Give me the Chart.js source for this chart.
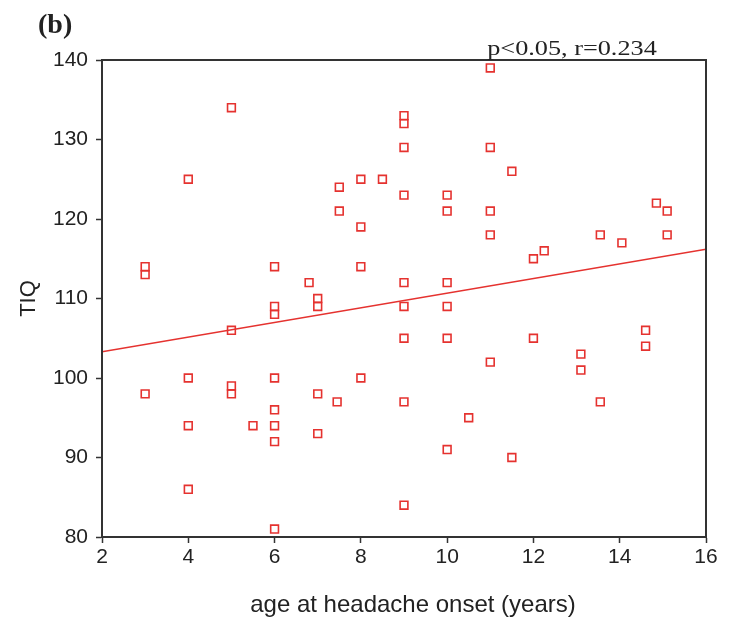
<!DOCTYPE html>
<html lang="en">
<head>
    <meta charset="UTF-8">
    <title>TIQ vs age at headache onset</title>
    <script src="https://cdn.jsdelivr.net/npm/chart.js@4/dist/chart.umd.min.js"></script>
    <style>
        body {
            margin: 0;
            padding: 0;
            background: #fff;
        }
        .chart-container {
            width: 730px;
            height: 622px;
        }
    </style>
</head>
<body>
    <div class="chart-container">
        <canvas id="scatterChart"></canvas>
    </div>

    <script>
        // age at headache onset (years) and TIQ, one entry per subject
        const ageOnset = [
            3, 3, 3,
            4, 4, 4, 4,
            5, 5, 5, 5,
            5.5,
            6, 6, 6, 6, 6, 6, 6, 6,
            6.8,
            7, 7, 7, 7,
            7.45,
            7.5, 7.5,
            8, 8, 8, 8,
            8.5,
            9, 9, 9, 9, 9, 9, 9, 9, 9,
            10, 10, 10, 10, 10, 10,
            10.5,
            11, 11, 11, 11, 11,
            11.5, 11.5,
            12, 12, 12.25,
            13.1, 13.1,
            13.55, 13.55,
            14.05,
            14.6, 14.6,
            14.85,
            15.1, 15.1
        ];
        const tiq = [
            114, 113, 98,
            125, 100, 94, 86,
            134, 106, 99, 98,
            94,
            114, 109, 108, 100, 96, 94, 92, 81,
            112,
            110, 109, 98, 93,
            97,
            124, 121,
            125, 119, 114, 100,
            125,
            133, 132, 129, 123, 112, 109, 105, 97, 84,
            123, 121, 112, 109, 105, 91,
            95,
            139, 129, 121, 118, 102,
            126, 90,
            115, 105, 116,
            103, 101,
            118, 97,
            117,
            106, 104,
            122,
            121, 118
        ];

        // fitted regression line (end points)
        const fitAge = [2, 16];
        const fitTiq = [103.3, 116.2];

        const xTicks = [2, 4, 6, 8, 10, 12, 14, 16];
        const yTicks = [80, 90, 100, 110, 120, 130, 140];

        const panelLabel = '(b)';
        const statsLabel = 'p<0.05, r=0.234';
        const xTitle = 'age at headache onset (years)';

        const red = '#e5322f';
        const axisColor = '#333';
        const sans = '"Liberation Sans", Arial, sans-serif';
        const serif = '"Liberation Serif", "Times New Roman", serif';

        const frameAndText = {
            id: 'frameAndText',
            afterDraw(chart) {
                const { ctx, chartArea } = chart;
                ctx.save();
                ctx.strokeStyle = axisColor;
                ctx.lineWidth = 2;
                ctx.strokeRect(chartArea.left, chartArea.top,
                    chartArea.right - chartArea.left, chartArea.bottom - chartArea.top);

                ctx.fillStyle = '#222';
                ctx.textBaseline = 'alphabetic';
                ctx.font = 'bold 28px ' + serif;
                ctx.textAlign = 'left';
                ctx.fillText(panelLabel, 38, 33);

                // x axis title, centred a little right of the plot centre as in the figure
                ctx.font = '24px ' + sans;
                ctx.textAlign = 'center';
                ctx.fillText(xTitle, 413, 612);

                // stats text is drawn a bit wide, like the original
                ctx.font = '21px ' + serif;
                ctx.translate(572, 55);
                ctx.scale(1.25, 1);
                ctx.fillText(statsLabel, 0, 0);
                ctx.restore();
            }
        };

        function createChart() {
            const ctx = document.getElementById('scatterChart').getContext('2d');

            new Chart(ctx, {
                type: 'scatter',
                data: {
                    datasets: [
                        {
                            label: 'TIQ',
                            data: ageOnset.map((a, i) => ({ x: a, y: tiq[i] })),
                            pointStyle: 'rect',
                            pointRadius: 5.5,
                            pointHoverRadius: 5.5,
                            borderColor: red,
                            backgroundColor: 'rgba(0,0,0,0)',
                            borderWidth: 1.6
                        },
                        {
                            label: 'fit',
                            data: fitAge.map((a, i) => ({ x: a, y: fitTiq[i] })),
                            showLine: true,
                            pointRadius: 0,
                            borderColor: red,
                            borderWidth: 1.5
                        }
                    ]
                },
                options: {
                    responsive: true,
                    maintainAspectRatio: false,
                    animation: false,
                    layout: {
                        padding: { left: 0, right: 24, top: 60, bottom: 0 }
                    },
                    plugins: {
                        legend: { display: false },
                        tooltip: { enabled: false }
                    },
                    scales: {
                        x: {
                            type: 'linear',
                            min: 2,
                            max: 16,
                            afterFit(scale) { scale.height = 85; },
                            afterBuildTicks(scale) {
                                scale.ticks = xTicks.map(v => ({ value: v }));
                            },
                            grid: {
                                drawOnChartArea: false,
                                tickLength: 6,
                                tickWidth: 1.5,
                                tickColor: axisColor
                            },
                            border: { color: axisColor, width: 2 },
                            ticks: {
                                padding: 2,
                                color: '#222',
                                font: { family: sans, size: 21 }
                            }
                        },
                        y: {
                            type: 'linear',
                            min: 80,
                            max: 140,
                            afterFit(scale) { scale.width = 102; },
                            afterBuildTicks(scale) {
                                scale.ticks = yTicks.map(v => ({ value: v }));
                            },
                            grid: {
                                drawOnChartArea: false,
                                tickLength: 6,
                                tickWidth: 1.5,
                                tickColor: axisColor
                            },
                            border: { color: axisColor, width: 2 },
                            ticks: {
                                padding: 8,
                                color: '#222',
                                font: { family: sans, size: 21 }
                            },
                            title: {
                                display: true,
                                text: 'TIQ',
                                color: '#222',
                                padding: { top: 16, bottom: 0 },
                                font: { family: sans, size: 22 }
                            }
                        }
                    }
                },
                plugins: [frameAndText]
            });
        }

        createChart();
    </script>
</body>
</html>
